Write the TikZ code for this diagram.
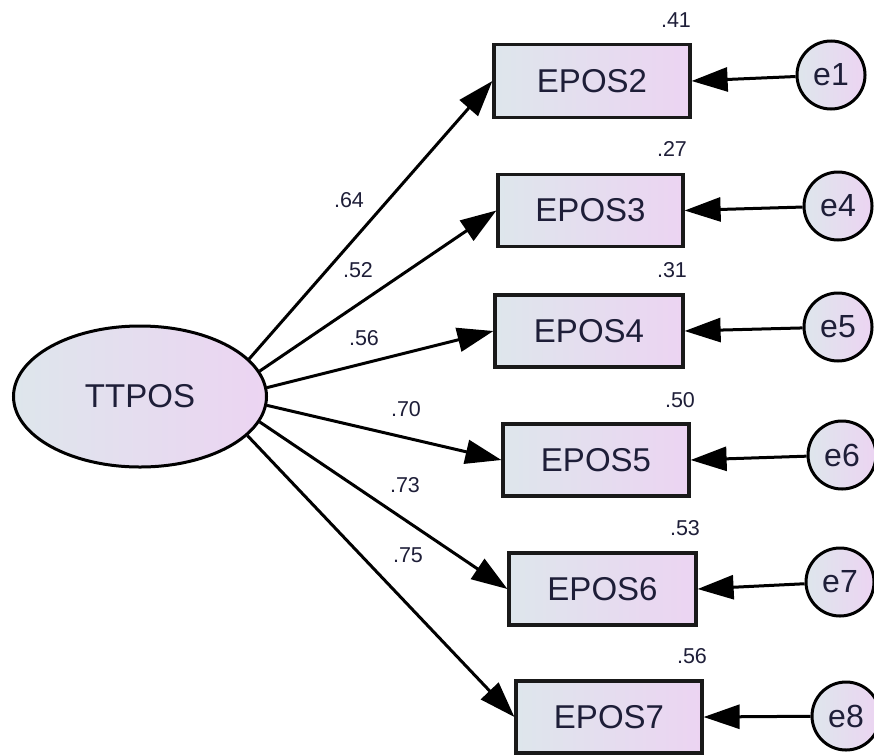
\documentclass[tikz,border=0pt]{standalone}
\usepackage{fontspec}
\setmainfont{Liberation Sans}
\usetikzlibrary{arrows.meta,shapes.geometric}
\definecolor{ink}{RGB}{30,30,56}
\definecolor{fillL}{RGB}{222,230,236}
\definecolor{fillR}{RGB}{236,212,242}
\begin{document}
\begin{tikzpicture}[x=1pt,y=-1pt,
  shade/.style={left color=fillL,right color=fillR},
  obs/.style={draw=black!90,line width=3.2pt,shade,rectangle,inner sep=0pt,
    font=\fontsize{33}{36}\selectfont,text=ink},
  latent/.style={draw=black,line width=3pt,shade,ellipse,inner sep=0pt,
    minimum width=253pt,minimum height=141pt,font=\fontsize{33}{36}\selectfont,text=ink},
  err/.style={draw=black,line width=3pt,shade,circle,inner sep=0pt,
    minimum size=68pt,font=\fontsize{32}{36}\selectfont,text=ink},
  coef/.style={font=\fontsize{21.5}{24}\selectfont,text=ink,inner sep=0pt},
  path/.style={line width=3pt,-{Triangle[length=36pt,width=24pt]}}
]
\useasboundingbox (0,0) rectangle (874,755);

% latent factor
\node[latent] (TT) at (140,396.5) {TTPOS};

% indicators
\node[obs,minimum width=196pt,minimum height=73pt] (EPOS2) at (592,81) {EPOS2};
\node[obs,minimum width=185pt,minimum height=72pt] (EPOS3) at (590.5,210.5) {EPOS3};
\node[obs,minimum width=188pt,minimum height=72pt] (EPOS4) at (589,331) {EPOS4};
\node[obs,minimum width=186pt,minimum height=72pt] (EPOS5) at (596,460) {EPOS5};
\node[obs,minimum width=187pt,minimum height=72pt] (EPOS6) at (602.5,589) {EPOS6};
\node[obs,minimum width=186pt,minimum height=72pt] (EPOS7) at (609,717) {EPOS7};

% error terms
\node[err] (e1) at (831,75) {e1};
\node[err] (e4) at (838,206) {e4};
\node[err] (e5) at (838,327) {e5};
\node[err] (e6) at (842,455) {e6};
\node[err] (e7) at (840,582) {e7};
\node[err] (e8) at (846,716) {e8};

% squared multiple correlations
\node[coef] (r2) at (676,20) {.41};
\node[coef] (r3) at (672,149) {.27};
\node[coef] (r4) at (672,270) {.31};
\node[coef] (r5) at (680,400) {.50};
\node[coef] (r6) at (685,528) {.53};
\node[coef] (r7) at (692,656) {.56};

% loadings
\draw[path] (TT.19.5) -- (EPOS2.west);
\draw[path] (TT.12) -- (EPOS3.west);
\draw[path] (TT.4) -- (EPOS4.west);
\draw[path] (TT.-4) -- (EPOS5.west);
\draw[path] (TT.-12.5) -- (EPOS6.west);
\draw[path] (TT.-20) -- (EPOS7.west);

\node[coef] (l2) at (349,200) {.64};
\node[coef] (l3) at (358,270) {.52};
\node[coef] (l4) at (364,338) {.56};
\node[coef] (l5) at (406,409) {.70};
\node[coef] (l6) at (405,485) {.73};
\node[coef] (l7) at (408,555) {.75};

% error paths
\draw[path] (e1) -- (EPOS2.east);
\draw[path] (e4) -- (EPOS3.east);
\draw[path] (e5) -- (EPOS4.east);
\draw[path] (e6) -- (EPOS5.east);
\draw[path] (e7) -- (EPOS6.east);
\draw[path] (e8) -- (EPOS7.east);
\end{tikzpicture}
\end{document}
